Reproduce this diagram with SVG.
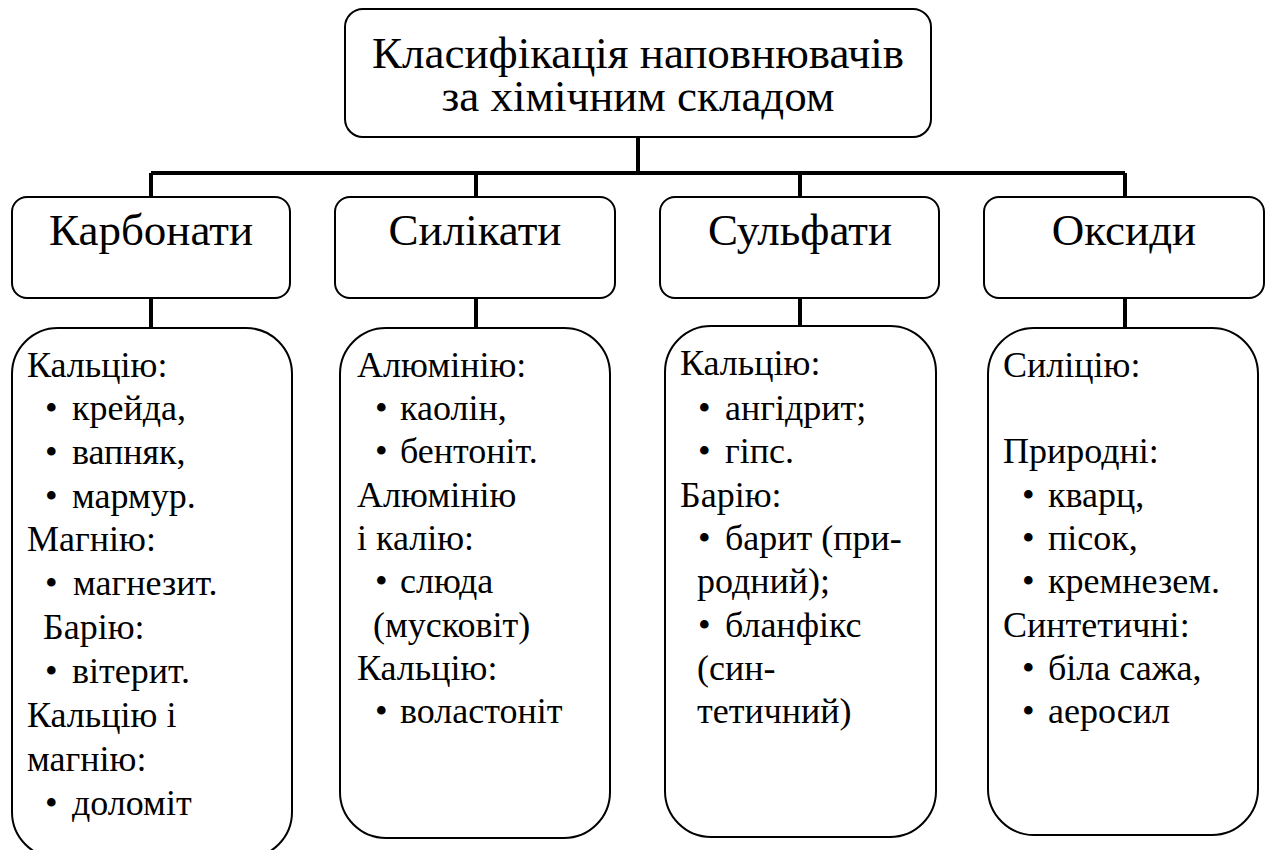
<svg xmlns="http://www.w3.org/2000/svg" width="1266" height="850" viewBox="0 0 1266 850">
<rect width="1266" height="850" fill="#fff"/>
<g id="connectors" stroke="#000" stroke-width="4" fill="none">
<path d="M638 137V173M151 173H1125M151 173V197M476 173V197M800 173V197M1125 173V197M151 298V328M476 298V328M800 298V328M1125 298V328"/>
</g>
<g id="root">
<rect x="345" y="9" width="586" height="128" rx="18" fill="#fff" stroke="#000" stroke-width="2"/>
<text style="font-family:'Liberation Serif'" font-size="45" text-anchor="middle" x="638" y="68">Класифікація наповнювачів</text>
<text style="font-family:'Liberation Serif'" font-size="45" text-anchor="middle" x="638" y="111">за хімічним складом</text>
</g>
<g id="carbonates">
<rect x="12" y="197" width="278" height="101" rx="15" fill="#fff" stroke="#000" stroke-width="2"/>
<text style="font-family:'Liberation Serif'" font-size="45" text-anchor="middle" x="151" y="245">Карбонати</text>
</g>
<g id="silicates">
<rect x="335" y="197" width="280" height="101" rx="15" fill="#fff" stroke="#000" stroke-width="2"/>
<text style="font-family:'Liberation Serif'" font-size="45" text-anchor="middle" x="475" y="245">Силікати</text>
</g>
<g id="sulfates">
<rect x="660" y="197" width="279" height="101" rx="15" fill="#fff" stroke="#000" stroke-width="2"/>
<text style="font-family:'Liberation Serif'" font-size="45" text-anchor="middle" x="800" y="245">Сульфати</text>
</g>
<g id="oxides">
<rect x="984" y="197" width="280" height="101" rx="15" fill="#fff" stroke="#000" stroke-width="2"/>
<text style="font-family:'Liberation Serif'" font-size="45" text-anchor="middle" x="1124" y="245">Оксиди</text>
</g>
<g id="carbonates-list">
<rect x="12" y="328" width="280" height="530" rx="46" fill="#fff" stroke="#000" stroke-width="2"/>
<text style="font-family:'Liberation Serif'" font-size="36" x="27" y="377">Кальцію:</text>
<text style="font-family:'Liberation Serif'" font-size="36" x="45" y="420">•<tspan x="72">крейда,</tspan></text>
<text style="font-family:'Liberation Serif'" font-size="36" x="45" y="464">•<tspan x="72">вапняк,</tspan></text>
<text style="font-family:'Liberation Serif'" font-size="36" x="45" y="508">•<tspan x="72">мармур.</tspan></text>
<text style="font-family:'Liberation Serif'" font-size="36" x="27" y="551">Магнію:</text>
<text style="font-family:'Liberation Serif'" font-size="36" x="45" y="595">•<tspan x="73">магнезит.</tspan></text>
<text style="font-family:'Liberation Serif'" font-size="36" x="43" y="639">Барію:</text>
<text style="font-family:'Liberation Serif'" font-size="36" x="45" y="683">•<tspan x="72">вітерит.</tspan></text>
<text style="font-family:'Liberation Serif'" font-size="36" x="27" y="727">Кальцію і</text>
<text style="font-family:'Liberation Serif'" font-size="36" x="27" y="771">магнію:</text>
<text style="font-family:'Liberation Serif'" font-size="36" x="45" y="815">•<tspan x="72">доломіт</tspan></text>
</g>
<g id="silicates-list">
<rect x="340" y="328" width="270" height="510" rx="46" fill="#fff" stroke="#000" stroke-width="2"/>
<text style="font-family:'Liberation Serif'" font-size="36" x="357" y="377">Алюмінію:</text>
<text style="font-family:'Liberation Serif'" font-size="36" x="375" y="420">•<tspan x="400">каолін,</tspan></text>
<text style="font-family:'Liberation Serif'" font-size="36" x="375" y="463">•<tspan x="400">бентоніт.</tspan></text>
<text style="font-family:'Liberation Serif'" font-size="36" x="357" y="507">Алюмінію</text>
<text style="font-family:'Liberation Serif'" font-size="36" x="357" y="550">і калію:</text>
<text style="font-family:'Liberation Serif'" font-size="36" x="375" y="593">•<tspan x="400">слюда</tspan></text>
<text style="font-family:'Liberation Serif'" font-size="36" x="373" y="637">(мусковіт)</text>
<text style="font-family:'Liberation Serif'" font-size="36" x="357" y="680">Кальцію:</text>
<text style="font-family:'Liberation Serif'" font-size="36" x="375" y="723">•<tspan x="400">воластоніт</tspan></text>
</g>
<g id="sulfates-list">
<rect x="665" y="326" width="271" height="511" rx="46" fill="#fff" stroke="#000" stroke-width="2"/>
<text style="font-family:'Liberation Serif'" font-size="36" x="680" y="375">Кальцію:</text>
<text style="font-family:'Liberation Serif'" font-size="36" x="698" y="420">•<tspan x="725">ангідрит;</tspan></text>
<text style="font-family:'Liberation Serif'" font-size="36" x="698" y="463">•<tspan x="725">гіпс.</tspan></text>
<text style="font-family:'Liberation Serif'" font-size="36" x="680" y="507">Барію:</text>
<text style="font-family:'Liberation Serif'" font-size="36" x="698" y="550">•<tspan x="725">барит (при-</tspan></text>
<text style="font-family:'Liberation Serif'" font-size="36" x="697" y="593">родний);</text>
<text style="font-family:'Liberation Serif'" font-size="36" x="698" y="637">•<tspan x="725">бланфікс</tspan></text>
<text style="font-family:'Liberation Serif'" font-size="36" x="697" y="680">(син-</text>
<text style="font-family:'Liberation Serif'" font-size="36" x="697" y="723">тетичний)</text>
</g>
<g id="oxides-list">
<rect x="988" y="328" width="270" height="507" rx="46" fill="#fff" stroke="#000" stroke-width="2"/>
<text style="font-family:'Liberation Serif'" font-size="36" x="1003" y="377">Силіцію:</text>
<text style="font-family:'Liberation Serif'" font-size="36" x="1003" y="463">Природні:</text>
<text style="font-family:'Liberation Serif'" font-size="36" x="1022" y="507">•<tspan x="1048">кварц,</tspan></text>
<text style="font-family:'Liberation Serif'" font-size="36" x="1022" y="550">•<tspan x="1048">пісок,</tspan></text>
<text style="font-family:'Liberation Serif'" font-size="36" x="1022" y="593">•<tspan x="1048">кремнезем.</tspan></text>
<text style="font-family:'Liberation Serif'" font-size="36" x="1003" y="637">Синтетичні:</text>
<text style="font-family:'Liberation Serif'" font-size="36" x="1022" y="680">•<tspan x="1048">біла сажа,</tspan></text>
<text style="font-family:'Liberation Serif'" font-size="36" x="1022" y="723">•<tspan x="1048">аеросил</tspan></text>
</g>
</svg>
